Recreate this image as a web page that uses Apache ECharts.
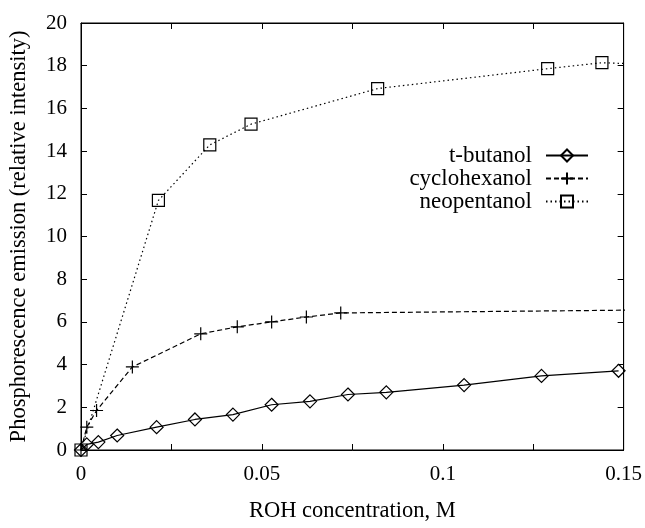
<!DOCTYPE html>
<html>
<head>
<meta charset="utf-8">
<script src="https://cdn.jsdelivr.net/npm/echarts@6/dist/echarts.min.js"></script>
<style>
  html, body { margin: 0; padding: 0; background: #fff; }
  #main { width: 645px; height: 528px; }
</style>
</head>
<body>
<div id="main"></div>
<script>
// 数据：点 (x = ROH 浓度 M, y = 相对强度)
var tbutanolX = [0, 0.0016, 0.0048, 0.010, 0.0209, 0.0315, 0.042, 0.0527, 0.0633, 0.0738, 0.0844, 0.1059, 0.1273, 0.1486];
var tbutanolY = [0, 0.26, 0.37, 0.68, 1.07, 1.43, 1.66, 2.12, 2.28, 2.60, 2.70, 3.04, 3.47, 3.71];

// 最后一个点在坐标范围外，只为了让虚线延伸到右边框
var cyclohexanolX = [0, 0.0016, 0.0043, 0.0142, 0.0331, 0.0432, 0.0527, 0.0623, 0.0718, 0.20];
var cyclohexanolY = [0, 1.07, 1.85, 3.89, 5.44, 5.77, 6.00, 6.23, 6.42, 6.63];

var neopentanolX = [0, 0.0214, 0.0356, 0.047, 0.082, 0.129, 0.144, 0.16];
var neopentanolY = [0, 11.69, 14.29, 15.26, 16.93, 17.86, 18.14, 18.05];

var seriesNames = ['t-butanol', 'cyclohexanol', 'neopentanol'];

var xTicks = { min: 0, max: 0.15, step: 0.025, labelStep: 0.05 };
var yTicks = { min: 0, max: 20, step: 2 };

function zip(xs, ys) {
  return xs.map(function (x, i) { return [x, ys[i]]; });
}

var chart = echarts.init(document.getElementById('main'), null, { renderer: 'canvas' });

var font = 'Liberation Serif';
var plusPath = 'path://M0,6 L12,6 M6,0 L6,12';

//x轴只在0.05的倍数上写数字
function xLabel(v) {
  var k = v / xTicks.labelStep;
  if (Math.abs(k - Math.round(k)) > 1e-6) return '';
  return String(+v.toFixed(3));
}

var baseX = {
  type: 'value',
  min: xTicks.min,
  max: xTicks.max,
  interval: xTicks.step,
  splitLine: { show: false },
  axisLine: { show: true, onZero: false, lineStyle: { color: '#000', width: 1 } },
  axisTick: { show: true, inside: true, length: 6, lineStyle: { color: '#000' } }
};
var baseY = {
  type: 'value',
  min: yTicks.min,
  max: yTicks.max,
  interval: yTicks.step,
  splitLine: { show: false },
  axisLine: { show: true, onZero: false, lineStyle: { color: '#000', width: 1 } },
  axisTick: { show: true, inside: true, length: 6, lineStyle: { color: '#000' } }
};

var option = {
  animation: false,
  backgroundColor: '#fff',
  textStyle: { fontFamily: font, color: '#000' },
  grid: {
    left: 81, right: 21, top: 23, bottom: 75,
    show: true, borderColor: '#000', borderWidth: 1
  },
  legend: {
    orient: 'vertical',
    right: 51,
    top: 139,
    align: 'right',
    itemWidth: 42,
    itemHeight: 15,
    itemGap: 0,
    textStyle: { fontFamily: font, fontSize: 23, lineHeight: 22.5, color: '#000', padding: [0, 9, 0, 0] },
    data: seriesNames
  },
  xAxis: [
    Object.assign({}, baseX, {
      position: 'bottom',
      name: 'ROH concentration, M',
      nameLocation: 'middle',
      nameGap: 50,
      nameTextStyle: { fontFamily: font, fontSize: 22.5, color: '#000' },
      axisLabel: { formatter: xLabel, fontFamily: font, fontSize: 21, color: '#000', margin: 14 }
    }),
    Object.assign({}, baseX, { position: 'top', axisLabel: { show: false } })
  ],
  yAxis: [
    Object.assign({}, baseY, {
      position: 'left',
      name: 'Phosphorescence emission (relative intensity)',
      nameLocation: 'middle',
      nameGap: 50,
      nameTextStyle: { fontFamily: font, fontSize: 22.5, color: '#000' },
      axisLabel: { fontFamily: font, fontSize: 21, color: '#000', margin: 14 }
    }),
    Object.assign({}, baseY, { position: 'right', axisLabel: { show: false } })
  ],
  series: [
    {
      name: seriesNames[0],
      type: 'line',
      data: zip(tbutanolX, tbutanolY),
      symbol: 'diamond',
      symbolSize: 13,
      clip: true,
      lineStyle: { color: '#000', width: 1.2, type: 'solid' },
      itemStyle: { color: 'rgba(0,0,0,0)', borderColor: '#000', borderWidth: 1.2 }
    },
    {
      name: seriesNames[1],
      type: 'line',
      data: zip(cyclohexanolX, cyclohexanolY),
      symbol: plusPath,
      symbolSize: 13,
      clip: true,
      lineStyle: { color: '#000', width: 1.2, type: [5, 3] },
      itemStyle: { color: 'rgba(0,0,0,0)', borderColor: '#000', borderWidth: 1.2 }
    },
    {
      name: seriesNames[2],
      type: 'line',
      data: zip(neopentanolX, neopentanolY),
      symbol: 'rect',
      symbolSize: 12,
      clip: true,
      lineStyle: { color: '#000', width: 1.2, type: [1.5, 3] },
      itemStyle: { color: 'rgba(0,0,0,0)', borderColor: '#000', borderWidth: 1.2 }
    }
  ]
};

chart.setOption(option);
</script>
</body>
</html>
